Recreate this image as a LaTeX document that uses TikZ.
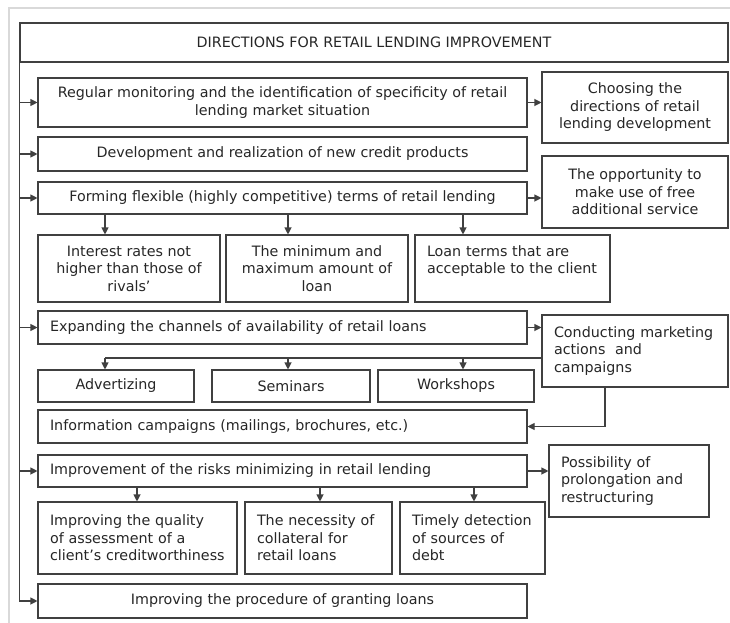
\documentclass[tikz,border=0pt]{standalone}
\usepackage{fontspec}
\setmainfont{DejaVu Sans}
\usetikzlibrary{arrows.meta,calc}

\tikzset{
  box/.style={draw=black!75, line width=1.1pt, inner sep=0pt, align=center,
    font=\fontsize{14.3}{17.5}\selectfont, text=black!85},
  lbox/.style={box, align=left, inner xsep=12pt},
  ln/.style={draw=black!75, line width=1.1pt},
  arr/.style={ln, -{Triangle[length=7pt,width=7pt]}},
}

\begin{document}
\begin{tikzpicture}[x=1pt,y=-1pt]
  \useasboundingbox (0,0) rectangle (730,623);
  % light frame of the figure
  \draw[black!15, line width=1.5pt] (9,623) -- (9,8) -- (730,8);

  % title and main directions
  \node[box, minimum width=708, minimum height=39] (title) at (374,42.5)
    {DIRECTIONS FOR RETAIL LENDING IMPROVEMENT};
  \node[box, minimum width=489, minimum height=49] (mon) at (282.5,102.5)
    {Regular monitoring and the identification of specificity of retail\\lending market situation};
  \node[box, minimum width=489, minimum height=34] (dev) at (282.5,154)
    {Development and realization of new credit products};
  \node[box, minimum width=489, minimum height=32] (form) at (282.5,198)
    {Forming flexible (highly competitive) terms of retail lending};
  \node[lbox, text width=465, minimum height=33] (expand) at (282.5,327.5)
    {Expanding the channels of availability of retail loans};
  \node[lbox, text width=465, minimum height=33] (info) at (282.5,426.5)
    {Information campaigns (mailings, brochures, etc.)};
  \node[lbox, text width=465, minimum height=32] (risk) at (282.5,471)
    {Improvement of the risks minimizing in retail lending};
  \node[box, minimum width=489, minimum height=34] (grant) at (282.5,601)
    {Improving the procedure of granting loans};

  % right column
  \node[box, minimum width=186, minimum height=71] (choose) at (635,107.5)
    {Choosing the\\directions of retail\\lending development};
  \node[box, minimum width=186, minimum height=72] (opp) at (635,192)
    {The opportunity to\\make use of free\\additional service};
  \node[lbox, text width=162, minimum height=72] (market) at (635,351)
    {Conducting marketing\\actions~ and\\campaigns};
  \node[lbox, text width=136, minimum height=72] (prol) at (629,481)
    {Possibility of\\prolongation and\\restructuring};

  % terms of lending
  \node[box, minimum width=182, minimum height=67] (rates) at (129,268.5)
    {Interest rates not\\higher than those of\\rivals'};
  \node[box, minimum width=182, minimum height=67] (minmax) at (317,268.5)
    {The minimum and\\maximum amount of\\loan};
  \node[lbox, text width=171, minimum height=67] (terms) at (512.5,268.5)
    {Loan terms that are\\acceptable to the client\\\mbox{}};

  % channels
  \node[box, minimum width=156, minimum height=32] (adv) at (116,386) {Advertizing};
  \node[box, minimum width=158, minimum height=32] (sem) at (291,386) {Seminars};
  \node[box, minimum width=156, minimum height=32] (work) at (456,386) {Workshops};

  % risks
  \node[lbox, text width=175, minimum height=72] (qual) at (137.5,538)
    {Improving the quality\\of assessment of a\\client's creditworthiness};
  \node[lbox, text width=123, minimum height=72] (coll) at (318.5,538)
    {The necessity of\\collateral for\\retail loans};
  \node[lbox, text width=121, minimum height=72] (timely) at (472.5,538)
    {Timely detection\\of sources of\\debt};

  % helper coordinates
  \coordinate (spine) at (title.south west);
  \coordinate (c1) at (105,0);
  \coordinate (c2) at (288,0);
  \coordinate (c3) at (463,0);
  \coordinate (r1) at (137,0);
  \coordinate (r2) at (320,0);
  \coordinate (r3) at (474,0);
  \coordinate (bus) at (0,358);
  \coordinate (back) at (605,0);

  % connectors
  \draw[ln] (spine) -- (spine |- grant.west);
  \foreach \b in {mon,dev,form,expand,risk,grant}
    \draw[arr] (spine |- \b.west) -- (\b.west);

  \draw[arr] (mon.east) -- (mon.east -| choose.west);
  \draw[arr] (form.east) -- (form.east -| opp.west);
  \draw[arr] (expand.east) -- (expand.east -| market.west);
  \draw[arr] (risk.east) -- (risk.east -| prol.west);

  \foreach \c/\b in {c1/rates,c2/minmax,c3/terms}
    \draw[arr] (\c |- form.south) -- (\c |- \b.north);
  \draw[ln] (bus -| market.west) -- (bus -| c1);
  \foreach \c/\b in {c1/adv,c2/sem,c3/work}
    \draw[arr] (bus -| \c) -- (\c |- \b.north);
  \draw[arr] (back |- market.south) |- (info.east);
  \foreach \c/\b in {r1/qual,r2/coll,r3/timely}
    \draw[arr] (\c |- risk.south) -- (\c |- \b.north);
\end{tikzpicture}
\end{document}
